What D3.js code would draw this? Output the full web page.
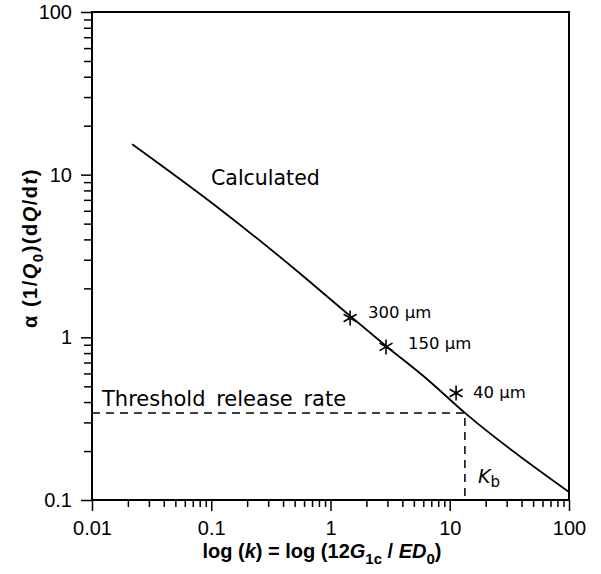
<!DOCTYPE html>
<html>
<head>
<meta charset="utf-8">
<script src="https://cdn.jsdelivr.net/npm/d3@7"></script>
<style>
  html, body { margin: 0; padding: 0; background: #fff; }
  svg { display: block; }
</style>
</head>
<body>
<svg id="chart" width="601" height="574"></svg>
<script>
// ---- data ----
const curveX = [0.0217, 0.112, 0.555, 1.457, 2.92, 6.57, 13.4, 100];
const curveY = [15.4, 6.33, 2.47, 1.354, 0.885, 0.547, 0.343, 0.112];
const pointLabels = ["300 µm", "150 µm", "40 µm"];
const pointX = [1.46, 2.92, 11.3];
const pointY = [1.316, 0.873, 0.455];
const thresholdY = 0.343;
const kbX = 13.4;
const xTicks = [0.01, 0.1, 1, 10, 100];
const xTickLabels = ["0.01", "0.1", "1", "10", "100"];
const yTicks = [0.1, 1, 10, 100];
const yTickLabels = ["0.1", "1", "10", "100"];

// ---- layout ----
const W = 601, H = 574;
const m = { left: 92, top: 12, right: 32, bottom: 74 };
const pw = W - m.left - m.right, ph = H - m.top - m.bottom;

const svg = d3.select("#chart");
svg.append("rect").attr("width", W).attr("height", H).attr("fill", "#fff");
const g = svg.append("g").attr("transform", `translate(${m.left},${m.top})`);

const x = d3.scaleLog().domain([0.01, 100]).range([0, pw]);
const y = d3.scaleLog().domain([0.1, 100]).range([ph, 0]);

function minors(lo, hi) {
  const out = [];
  for (let e = Math.log10(lo); e < Math.log10(hi); e++) {
    for (let k = 2; k <= 9; k++) out.push(k * Math.pow(10, e));
  }
  return out;
}

const tickFont = "'Liberation Sans', Arial, sans-serif";

// minor ticks
const xMinor = g.append("g").attr("transform", `translate(0,${ph})`)
  .call(d3.axisBottom(x).tickValues(minors(0.01, 100)).tickSize(7).tickFormat(""));
const yMinor = g.append("g")
  .call(d3.axisLeft(y).tickValues(minors(0.1, 100)).tickSize(8).tickFormat(""));
// major ticks
const xMajor = g.append("g").attr("transform", `translate(0,${ph})`)
  .call(d3.axisBottom(x).tickValues(xTicks).tickSize(11).tickPadding(12)
    .tickFormat((d, i) => xTickLabels[i]));
const yMajor = g.append("g")
  .call(d3.axisLeft(y).tickValues(yTicks).tickSize(11).tickPadding(9)
    .tickFormat((d, i) => yTickLabels[i]));

[xMinor, yMinor, xMajor, yMajor].forEach(a => {
  a.select(".domain").remove();
  a.selectAll(".tick line").attr("stroke", "#000").attr("stroke-width", 1.5);
  a.selectAll(".tick text").attr("fill", "#000")
    .style("font-family", tickFont).style("font-size", "20px");
});
xMajor.selectAll(".tick text").attr("dy", "0.62em");

// frame
g.append("rect").attr("x", 0).attr("y", 0).attr("width", pw).attr("height", ph)
  .attr("fill", "none").attr("stroke", "#000").attr("stroke-width", 2);

// threshold dashed lines
g.append("path")
  .attr("d", `M${x(0.01)},${y(thresholdY)}H${x(kbX)}V${y(0.1)}`)
  .attr("fill", "none").attr("stroke", "#000").attr("stroke-width", 1.5)
  .attr("stroke-dasharray", "8,6");

// calculated curve
const line = d3.line().x(d => x(d[0])).y(d => y(d[1])).curve(d3.curveMonotoneX);
g.append("path").datum(curveX.map((v, i) => [v, curveY[i]]))
  .attr("d", line).attr("fill", "none").attr("stroke", "#000").attr("stroke-width", 1.8);

// star markers
const r = 7.5;
pointX.forEach((px, i) => {
  const cx = x(px), cy = y(pointY[i]);
  let d = "";
  [90, 30, 150].forEach(a => {
    const rad = a * Math.PI / 180;
    const dx = r * Math.cos(rad), dy = r * Math.sin(rad);
    d += `M${cx - dx},${cy - dy}L${cx + dx},${cy + dy}`;
  });
  g.append("path").attr("d", d).attr("stroke", "#000").attr("stroke-width", 1.6).attr("fill", "none");
});

const annFont = "'DejaVu Sans', sans-serif";
// point labels
const labelPos = [[368, 318], [408, 349], [473, 398]];
pointLabels.forEach((t, i) => {
  svg.append("text").attr("x", labelPos[i][0]).attr("y", labelPos[i][1])
    .style("font-family", annFont).style("font-size", "16.5px").text(t);
});

svg.append("text").attr("x", 211).attr("y", 185)
  .style("font-family", annFont).style("font-size", "20.5px").text("Calculated");

svg.append("text").attr("x", 102).attr("y", 406)
  .style("font-family", annFont).style("font-size", "21px").style("word-spacing", "4px")
  .text("Threshold release rate");

const kb = svg.append("text").attr("x", 478).attr("y", 483)
  .style("font-family", annFont).style("font-size", "19px");
kb.append("tspan").style("font-style", "italic").text("K");
kb.append("tspan").attr("dy", 4).style("font-size", "15px").text("b");

// x axis title
const titleFont = "'Liberation Sans', Arial, sans-serif";
const xt = svg.append("text").attr("x", 322).attr("y", 558).attr("text-anchor", "middle")
  .style("font-family", titleFont).style("font-size", "20px").style("font-weight", "bold");
xt.append("tspan").text("log (");
xt.append("tspan").style("font-style", "italic").text("k");
xt.append("tspan").text(") = log (12");
xt.append("tspan").style("font-style", "italic").text("G");
xt.append("tspan").attr("dy", 6).style("font-size", "15px").text("1c");
xt.append("tspan").attr("dy", -6).text(" / ");
xt.append("tspan").style("font-style", "italic").text("ED");
xt.append("tspan").attr("dy", 6).style("font-size", "15px").text("0");
xt.append("tspan").attr("dy", -6).text(")");

// y axis title
const yt = svg.append("text").attr("transform", "translate(37,248) rotate(-90)")
  .attr("text-anchor", "middle")
  .style("font-family", titleFont).style("font-size", "20px").style("font-weight", "bold")
  .style("letter-spacing", "1.5px");
yt.append("tspan").text("α (1/");
yt.append("tspan").style("font-style", "italic").text("Q");
yt.append("tspan").attr("dy", 6).style("font-size", "15px").text("0");
yt.append("tspan").attr("dy", -6).text(")(d");
yt.append("tspan").style("font-style", "italic").text("Q");
yt.append("tspan").text("/d");
yt.append("tspan").style("font-style", "italic").text("t");
yt.append("tspan").text(")");
</script>
</body>
</html>
